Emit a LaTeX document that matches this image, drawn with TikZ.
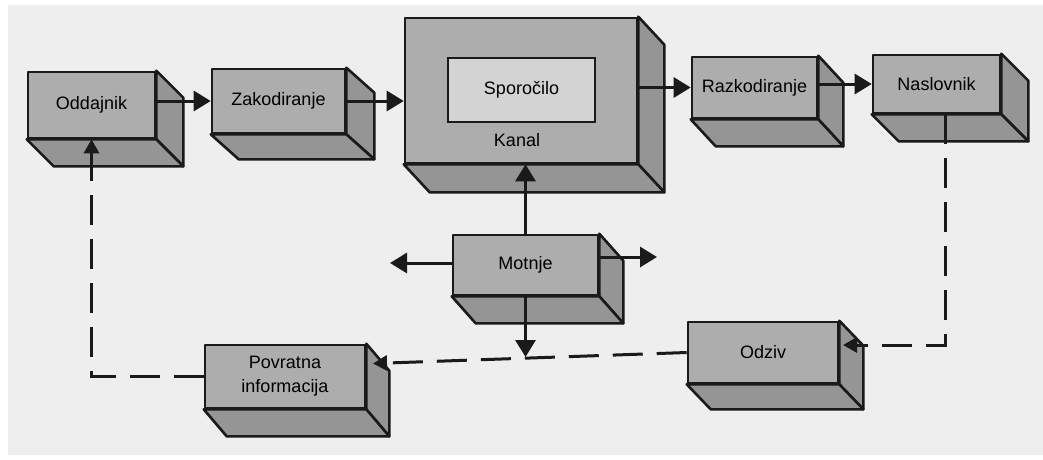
\documentclass[tikz,border=0pt]{standalone}
\usepackage{fontspec}
\setmainfont{Liberation Sans}
\usetikzlibrary{arrows.meta,calc}

\definecolor{paper}{HTML}{EEEEEE}
\definecolor{frontgray}{HTML}{ADADAD}
\definecolor{sidegray}{HTML}{959595}
\definecolor{innergray}{HTML}{D3D3D3}
\definecolor{ink}{HTML}{1A1A1A}

\tikzset{
  front/.style={draw=ink, line width=2.6pt, fill=frontgray, inner sep=0pt,
    align=center, font=\fontsize{18}{24}\selectfont, line join=round},
  face/.style={draw=ink, line width=2.6pt, fill=sidegray, line join=round},
  inner/.style={draw=ink, line width=2pt, fill=innergray, inner sep=0pt,
    font=\fontsize{18}{24}\selectfont},
  caption/.style={inner sep=0pt, font=\fontsize{18}{24}\selectfont},
  flow/.style={draw=ink, line width=3pt, -{Triangle[length=17pt,width=20pt]}},
  feedback/.style={draw=ink, line width=3pt, dash pattern=on 30pt off 14pt,
    -{Triangle[length=14pt,width=15pt]}},
}

% side and bottom faces of a block, extruded down and to the right
\newcommand\blockdepth[3]{%
  \draw[face] (#1.north east) -- ++(#2,#3) -- ($(#1.south east)+(#2,#3)$)
    -- (#1.south east) -- cycle;
  \draw[face] (#1.south west) -- ($(#1.south west)+(#2,#3)$)
    -- ($(#1.south east)+(#2,#3)$) -- (#1.south east) -- cycle;
}

\begin{document}
\begin{tikzpicture}[x=1pt,y=-1pt]
  % page
  \fill[white] (0,0) rectangle (1043,459);
  \fill[paper] (8,5) rectangle (1043,455);
  \useasboundingbox (0,0) rectangle (1043,459);

  % blocks
  \node[front, minimum width=127pt, minimum height=66pt] (odd) at (91.5,105) {Oddajnik};
  \node[front, minimum width=133pt, minimum height=64pt] (zak) at (278.5,101) {Zakodiranje};
  \node[front, minimum width=232pt, minimum height=145pt] (kanal) at (521,90.5) {};
  \node[front, minimum width=125pt, minimum height=61pt] (razk) at (754.5,87.5) {Razkodiranje};
  \node[front, minimum width=127pt, minimum height=58pt] (nasl) at (936.5,84) {Naslovnik};
  \node[front, minimum width=145pt, minimum height=60pt] (mot) at (525.5,265) {Motnje};
  \node[front, minimum width=160pt, minimum height=63pt] (povr) at (285,376.5) {Povratna\\informacija};
  \node[front, minimum width=150pt, minimum height=61pt] (odz) at (763,352.5) {Odziv};

  \blockdepth{odd}{27}{27}
  \blockdepth{zak}{28}{25}
  \blockdepth{kanal}{26}{28}
  \blockdepth{razk}{25}{27}
  \blockdepth{nasl}{27}{27}
  \blockdepth{mot}{24}{27}
  \blockdepth{povr}{23}{27}
  \blockdepth{odz}{24}{25}

  % message inside the channel
  \node[inner, minimum width=147pt, minimum height=64pt] (spor) at (521.5,90) {Sporočilo};
  \node[caption] (kanaltxt) at (517,140) {Kanal};

  % main flow
  \draw[flow] (odd.east |- zak.west) -- (zak.west);
  \draw[flow] (zak.east) -- (zak.east -| kanal.west);
  \draw[flow] (kanal.east |- razk.west) -- (razk.west);
  \draw[flow] (razk.east |- nasl.west) -- (nasl.west);

  % noise
  \coordinate (noiseL) at (390,263);
  \coordinate (noiseR) at (657,257);
  \coordinate (noiseD) at (525.5,357);
  \draw[flow] (mot.north) -- (mot.north |- kanal.south);
  \draw[flow] (mot.west |- noiseL) -- (noiseL);
  \draw[flow] (mot.east |- noiseR) -- (noiseR);
  \draw[flow] (mot.south) -- (noiseD);

  % feedback loop
  \coordinate (odzIn) at (843,345);
  \coordinate (povrIn) at (373,363.5);
  \draw[feedback] ($(nasl.south)+(8.5,0)$) |- (odzIn);
  \draw[feedback] (odz.west) -- (povrIn);
  \draw[feedback] (povr.west) -| (odd.south);
\end{tikzpicture}
\end{document}
